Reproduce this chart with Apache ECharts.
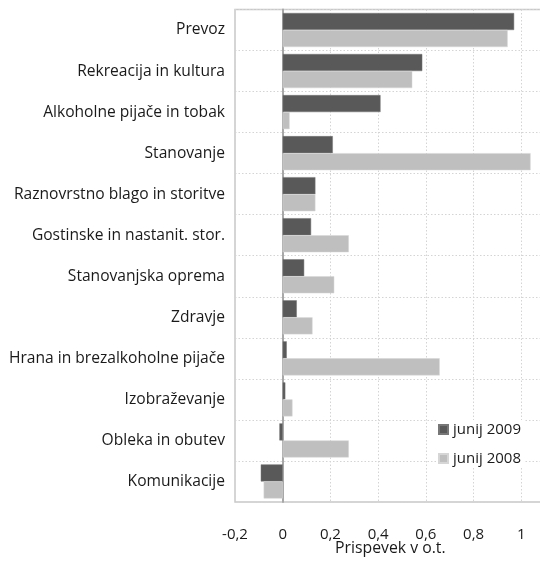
<!DOCTYPE html>
<html>
<head>
<meta charset="utf-8">
<script src="https://cdn.jsdelivr.net/npm/echarts@6/dist/echarts.min.js"></script>
<style>
  html, body { margin: 0; padding: 0; background: #fff; }
  #chart { width: 540px; height: 564px; }
</style>
</head>
<body>
<div id="chart"></div>
<script>
// kategorije (od zgoraj navzdol)
const categories = [
  'Prevoz',
  'Rekreacija in kultura',
  'Alkoholne pijače in tobak',
  'Stanovanje',
  'Raznovrstno blago in storitve',
  'Gostinske in nastanit. stor.',
  'Stanovanjska oprema',
  'Zdravje',
  'Hrana in brezalkoholne pijače',
  'Izobraževanje',
  'Obleka in obutev',
  'Komunikacije'
]
const junij2009 = [0.97, 0.585, 0.41, 0.21, 0.137, 0.119, 0.09, 0.059, 0.017, 0.011, -0.014, -0.092]
const junij2008 = [0.943, 0.543, 0.029, 1.039, 0.137, 0.277, 0.216, 0.125, 0.658, 0.041, 0.277, -0.08]

const darkGrey = '#595959'
const lightGrey = '#bfbfbf'
const font = 'Open Sans'

const chart = echarts.init(document.getElementById('chart'))

const option = {
  animation: false,
  textStyle: { fontFamily: font },
  grid: {
    left: 235, top: 9.5, bottom: 62, right: -29,
    outerBoundsMode: 'none',
    containLabel: false,
    show: true, borderColor: '#c8c8c8', borderWidth: 1.5
  },
  legend: {
    orient: 'vertical',
    left: 436, top: 420,
    itemWidth: 9, itemHeight: 9, itemGap: 14,
    backgroundColor: '#fff',
    padding: [2, 4, 2, 2],
    textStyle: { fontSize: 15, color: '#1a1a1a', fontFamily: font },
    data: [
      { name: 'junij 2009', icon: 'rect' },
      { name: 'junij 2008', icon: 'rect' }
    ]
  },
  xAxis: {
    type: 'value',
    min: -0.2, max: 1.2, interval: 0.2,
    axisLine: { show: false },
    axisTick: { show: false },
    axisLabel: {
      margin: 25,
      fontSize: 15, color: '#1a1a1a',
      formatter: v => String(Math.round(v * 10) / 10).replace('.', ',')
    },
    splitLine: { lineStyle: { type: [1.5, 2], color: '#d4d4d4' } }
  },
  yAxis: {
    type: 'category',
    data: categories,
    inverse: true,
    axisLine: { onZero: true, lineStyle: { color: '#a8a8a8', width: 2 } },
    axisTick: { show: false },
    axisLabel: { margin: 10, fontSize: 15.6, color: '#1a1a1a' },
    splitLine: { show: true, lineStyle: { type: [1.5, 2], color: '#d4d4d4' } }
  },
  graphic: [{
    type: 'text',
    left: 335, top: 540,
    style: { text: 'Prispevek v o.t.', fontSize: 15.8, fill: '#1a1a1a', fontFamily: font }
  }],
  series: [
    {
      name: 'junij 2009', type: 'bar', data: junij2009,
      barGap: '0%', barCategoryGap: '17%',
      itemStyle: { color: darkGrey, borderColor: '#777', borderWidth: 0.5 }
    },
    {
      name: 'junij 2008', type: 'bar', data: junij2008,
      itemStyle: { color: lightGrey, borderColor: '#d6d6d6', borderWidth: 0.5 }
    }
  ]
}

chart.setOption(option)
</script>
</body>
</html>
